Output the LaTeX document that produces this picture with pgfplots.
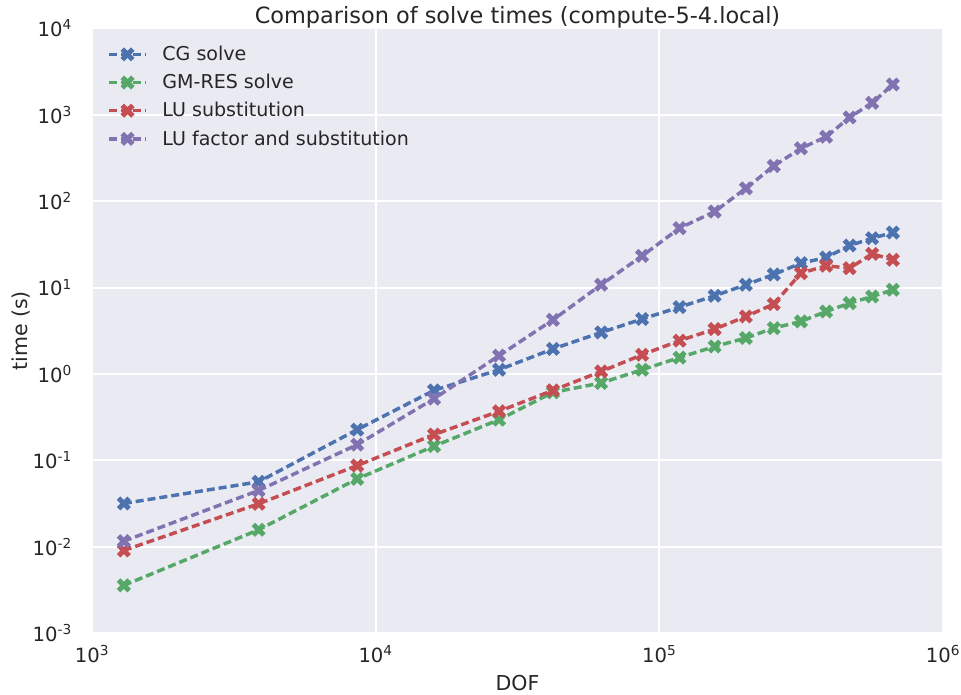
\documentclass[border=0pt]{standalone}
\usepackage{fontspec}
\setmainfont{DejaVu Sans}
\usepackage{pgfplots}
\usepackage{pgfplotstable}
\pgfplotsset{compat=1.18}

\definecolor{sbblue}{HTML}{4C72B0}
\definecolor{sbgreen}{HTML}{55A868}
\definecolor{sbred}{HTML}{C44E52}
\definecolor{sbpurple}{HTML}{8172B2}
\definecolor{sbbg}{HTML}{EAEAF2}
\definecolor{sbtext}{HTML}{262626}

% filled "X" marker: a plus sign turned by 45 degrees
\pgfdeclareplotmark{Xfill}{%
  \pgftransformrotate{45}%
  \pgfpathmoveto{\pgfpoint{-0.3333\pgfplotmarksize}{-\pgfplotmarksize}}%
  \pgfpathlineto{\pgfpoint{0.3333\pgfplotmarksize}{-\pgfplotmarksize}}%
  \pgfpathlineto{\pgfpoint{0.3333\pgfplotmarksize}{-0.3333\pgfplotmarksize}}%
  \pgfpathlineto{\pgfpoint{\pgfplotmarksize}{-0.3333\pgfplotmarksize}}%
  \pgfpathlineto{\pgfpoint{\pgfplotmarksize}{0.3333\pgfplotmarksize}}%
  \pgfpathlineto{\pgfpoint{0.3333\pgfplotmarksize}{0.3333\pgfplotmarksize}}%
  \pgfpathlineto{\pgfpoint{0.3333\pgfplotmarksize}{\pgfplotmarksize}}%
  \pgfpathlineto{\pgfpoint{-0.3333\pgfplotmarksize}{\pgfplotmarksize}}%
  \pgfpathlineto{\pgfpoint{-0.3333\pgfplotmarksize}{0.3333\pgfplotmarksize}}%
  \pgfpathlineto{\pgfpoint{-\pgfplotmarksize}{0.3333\pgfplotmarksize}}%
  \pgfpathlineto{\pgfpoint{-\pgfplotmarksize}{-0.3333\pgfplotmarksize}}%
  \pgfpathlineto{\pgfpoint{-0.3333\pgfplotmarksize}{-0.3333\pgfplotmarksize}}%
  \pgfpathclose
  \pgfusepathqfill}

% solve times in seconds against degrees of freedom
\pgfplotstableread{
dof     cg      gmres    lusub    lufact
1295    0.0317  0.00357  0.00906  0.0116
3866    0.0564  0.0157   0.0314   0.0448
8610    0.227   0.0611   0.0871   0.152
16060   0.646   0.146    0.199    0.518
27220   1.12    0.296    0.370    1.63
42170   1.95    0.613    0.647    4.24
62370   3.03    0.787    1.07     10.8
86940   4.33    1.12     1.67     23.3
117800  5.95    1.55     2.43     48.8
156600  8.04    2.08     3.31     75.9
201900  10.8    2.61     4.63     141
253100  14.2    3.40     6.45     256
315600  19.2    4.06     14.7     410
387200  22.3    5.29     17.9     558
468500  30.7    6.62     16.8     935
562600  37.3    7.89     24.6     1380
665800  43.4    9.44     21.0     2250
}\soltimes

\newcommand{\tickfont}{\fontsize{14.7}{17.5}\selectfont}
\newcommand{\legfont}{\fontsize{14.3}{17}\selectfont}

\begin{document}
\begin{tikzpicture}
\useasboundingbox (-69pt,-45.75pt) rectangle (651.75pt,474.8pt);
\begin{axis}[
  scale only axis,
  width=638.25pt, height=453.4pt,
  xmode=log, ymode=log,
  xmin=1e3, xmax=1e6, ymin=1e-3, ymax=1e4,
  axis background/.style={fill=sbbg},
  axis line style={draw=none},
  xminorticks=false, yminorticks=false,
  major tick length=0pt,
  grid=major,
  major grid style={draw=white, line width=1.4pt},
  xtick={1e3,1e4,1e5,1e6},
  xticklabels={10\textsuperscript{3},10\textsuperscript{4},10\textsuperscript{5},10\textsuperscript{6}},
  ytick={1e-3,1e-2,1e-1,1e0,1e1,1e2,1e3,1e4},
  yticklabels={10\textsuperscript{-3},10\textsuperscript{-2},10\textsuperscript{-1},10\textsuperscript{0},10\textsuperscript{1},10\textsuperscript{2},10\textsuperscript{3},10\textsuperscript{4}},
  ticklabel style={font=\tickfont, text=sbtext},
  yticklabel style={xshift=-11.5pt},
  xticklabel style={yshift=-6pt},
  xlabel={DOF},
  ylabel={time (s)},
  xlabel style={font=\fontsize{15.4}{18}\selectfont, text=sbtext,
    at={(axis description cs:0.5,0)}, anchor=base, yshift=-42.75pt},
  ylabel style={font=\fontsize{15.4}{18}\selectfont, text=sbtext,
    at={(axis description cs:0,0.5)}, anchor=center, yshift=53.25pt},
  title={Comparison of solve times (compute-5-4.local)},
  title style={font=\fontsize{16.8}{20}\selectfont, text=sbtext,
    at={(axis description cs:0.5,1)}, anchor=base, yshift=-2pt},
  every axis plot/.append style={line width=2.6pt, dash pattern=on 6pt off 3pt},
  legend image code/.code={%
    \draw[mark repeat=2, mark phase=2] plot coordinates {(0pt,0pt) (13.9pt,0pt) (27.75pt,0pt)};},
  legend cell align=left,
  legend style={at={(axis description cs:0,1)}, anchor=north west,
    xshift=8.25pt, yshift=-9pt, draw=none, fill=none,
    font=\legfont, text=sbtext, row sep=4.75pt, column sep=9pt},
]
\addplot[color=sbblue, mark=Xfill, mark size=5.6pt, mark options={solid}]
  table[x=dof, y=cg] {\soltimes};
\addlegendentry{CG solve}
\addplot[color=sbgreen, mark=Xfill, mark size=5.6pt, mark options={solid}]
  table[x=dof, y=gmres] {\soltimes};
\addlegendentry{GM-RES solve}
\addplot[color=sbred, mark=Xfill, mark size=5.6pt, mark options={solid}]
  table[x=dof, y=lusub] {\soltimes};
\addlegendentry{LU substitution}
\addplot[color=sbpurple, mark=Xfill, mark size=5.6pt, mark options={solid}]
  table[x=dof, y=lufact] {\soltimes};
\addlegendentry{LU factor and substitution}
\end{axis}
\end{tikzpicture}
\end{document}
